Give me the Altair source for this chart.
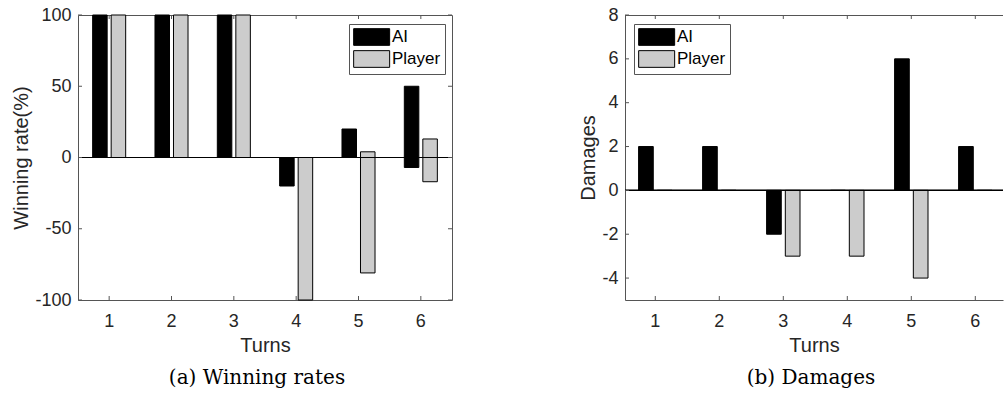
import altair as alt
import pandas as pd

turns = [1, 2, 3, 4, 5, 6]
series = ["AI", "Player"]
colors = ["#000000", "#cccccc"]

# (a) Winning rates: each bar spans from low to high
win_ai_low = [0, 0, 0, -20, 0, -7]
win_ai_high = [100, 100, 100, 0, 20, 50]
win_pl_low = [0, 0, 0, -100, -81, -17]
win_pl_high = [100, 100, 100, 0, 4, 13]
win_ticks = [-100, -50, 0, 50, 100]

# (b) Damages
dmg_ai = [2, 2, -2, 0, 6, 2]
dmg_pl = [0, 0, -3, -3, -4, 0]
dmg_ticks = [-4, -2, 0, 2, 4, 6, 8]

FONT = "Liberation Sans"
FRAME = "#555555"
TXT = "#262626"
H = 285
W1 = 374
W2 = 378
TK = 4

win_df = pd.DataFrame({
    "turn": turns * 2,
    "series": ["AI"] * 6 + ["Player"] * 6,
    "low": win_ai_low + win_pl_low,
    "high": win_ai_high + win_pl_high,
})
dmg_df = pd.DataFrame({
    "turn": turns * 2,
    "series": ["AI"] * 6 + ["Player"] * 6,
    "low": [0] * 12,
    "high": dmg_ai + dmg_pl,
})
turn_df = pd.DataFrame({"turn": turns})
wt_df = pd.DataFrame({"v": win_ticks})
dt_df = pd.DataFrame({"v": dmg_ticks})

SWATCH = "M-1,-1H3.31V1H-1Z"


def legend(x, y):
    return alt.Legend(
        title=None, orient="none", legendX=x, legendY=y,
        symbolType=SWATCH, symbolSize=279, symbolStrokeColor="black",
        symbolStrokeWidth=1, symbolOpacity=1,
        labelFont=FONT, labelFontSize=17, labelColor="black", labelOffset=21,
        rowPadding=0, padding=4, strokeColor=FRAME, fillColor="white",
    )


def panel(df, ticks_df, ydom, ytitle, width, pin, pout, align, leg, caption, cap_dx, full_frame):
    xs = alt.Scale(domain=turns, paddingInner=pin, paddingOuter=pout, align=align)
    ys = alt.Scale(domain=ydom, nice=False, zero=False)
    xaxis = alt.Axis(title="Turns", labelAngle=0, ticks=False, domain=not full_frame,
                     domainColor=FRAME, labelFont=FONT, labelFontSize=18,
                     labelColor=TXT, labelPadding=12, titleFont=FONT, titleFontSize=20,
                     titleFontWeight="normal", titleColor=TXT, titlePadding=5)
    yaxis = alt.Axis(title=ytitle, values=list(ticks_df["v"]), ticks=False,
                     domain=not full_frame, domainColor=FRAME, grid=False,
                     labelExpr="'' + datum.value",
                     labelFont=FONT, labelFontSize=18, labelColor=TXT, labelPadding=7,
                     titleFont=FONT, titleFontSize=20, titleFontWeight="normal",
                     titleColor=TXT, titlePadding=3)
    bars = alt.Chart(df).mark_bar(stroke="black", strokeWidth=1, opacity=1).encode(
        x=alt.X("turn:O", scale=xs, axis=xaxis),
        xOffset=alt.XOffset("series:N", scale=alt.Scale(domain=series, paddingInner=0.216, paddingOuter=0)),
        y=alt.Y("low:Q", scale=ys, axis=yaxis),
        y2="high:Q",
        color=alt.Color("series:N", scale=alt.Scale(domain=series, range=colors), legend=leg),
    )
    zero = alt.Chart(turn_df).mark_rule(color="black", strokeWidth=1).encode(y=alt.datum(0))
    xb = alt.Chart(turn_df).mark_rule(color=FRAME, strokeWidth=1).encode(
        x="turn:O", y=alt.value(H), y2=alt.value(H - TK))
    xt = alt.Chart(turn_df).mark_rule(color=FRAME, strokeWidth=1).encode(
        x="turn:O", y=alt.value(0), y2=alt.value(TK))
    yl = alt.Chart(ticks_df).mark_rule(color=FRAME, strokeWidth=1).encode(
        y="v:Q", x=alt.value(0), x2=alt.value(TK))
    layers = [bars, zero, xb, xt, yl]
    if full_frame:
        yr = alt.Chart(ticks_df).mark_rule(color=FRAME, strokeWidth=1).encode(
            y="v:Q", x=alt.value(width), x2=alt.value(width - TK))
        layers.append(yr)
    else:
        top = alt.Chart(turn_df).mark_rule(color=FRAME, strokeWidth=1).encode(
            x=alt.value(0), x2=alt.value(width), y=alt.value(0.5))
        layers.append(top)
    ch = alt.layer(*layers).properties(
        width=width, height=H,
        title=alt.TitleParams(caption, orient="bottom", font="DejaVu Serif", fontSize=20,
                              fontWeight="normal", color="black", frame="group",
                              anchor="middle", offset=13, dx=cap_dx),
    )
    if full_frame:
        ch = ch.properties(view=alt.ViewBackground(stroke=FRAME, strokeWidth=1))
    else:
        ch = ch.properties(view=alt.ViewBackground(stroke="transparent"))
    return ch


left = panel(win_df, wt_df, [-100, 100], "Winning rate(%)", W1, 0.47, 0.235, 0.5,
             legend(271, 9), "(a) Winning rates", -8, True)
right = panel(dmg_df, dt_df, [-5, 8], "Damages", W2, 0.478, 0.192, 0.553,
              legend(9, 9), "(b) Damages", -3, False)

chart = alt.hconcat(left, right, spacing=125).resolve_scale(
    x="independent", y="independent", xOffset="independent"
).resolve_legend(color="independent").properties(
    padding={"left": 11, "top": 5, "right": 0, "bottom": 0},
    background="white",
)

chart.save("out.html", embed_options={"renderer": "svg", "actions": False})
